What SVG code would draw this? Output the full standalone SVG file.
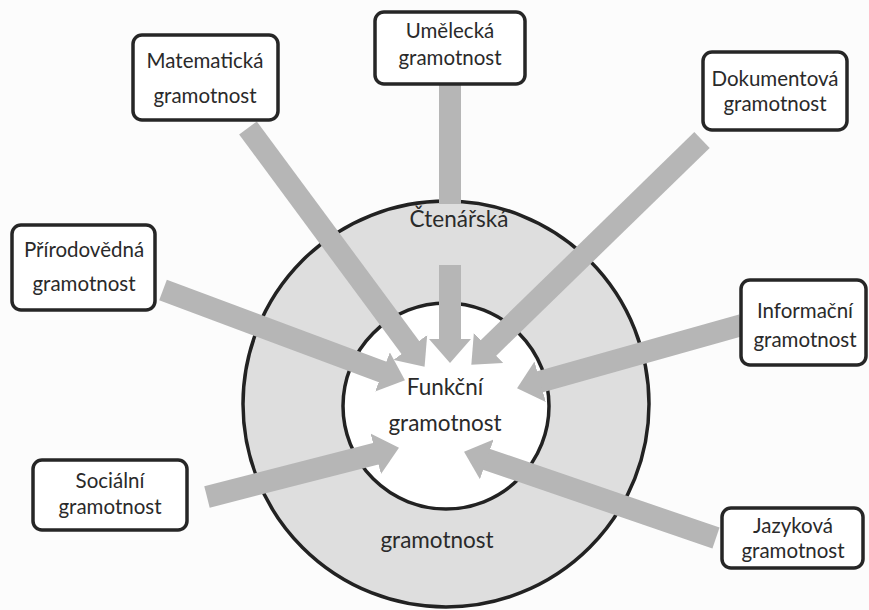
<svg xmlns="http://www.w3.org/2000/svg" width="869" height="610" viewBox="0 0 869 610">
<defs>
<style>
.box{fill:#fff;stroke:#262626;stroke-width:3.5}
.t{font-family:Lato,"Noto Sans","Liberation Sans",sans-serif;font-size:20.5px;fill:#2a2a2a;text-anchor:middle}
.c{font-size:22.5px}
.arr{stroke:#b6b6b6;stroke-width:22;fill:none;marker-end:url(#head)}
.ring{stroke:#222;stroke-width:3.5}
</style>
<marker id="head" markerUnits="userSpaceOnUse" viewBox="0 0 24 42" refX="1" refY="21" markerWidth="24" markerHeight="42" orient="auto">
<path d="M0,0 L24,21 L0,42 Z" fill="#b6b6b6"/>
</marker>
</defs>
<rect width="869" height="610" fill="#fcfcfc"/>
<g id="rings">
<circle class="ring" cx="446" cy="404" r="203" fill="#dedede"/>
<circle class="ring" cx="446" cy="406" r="103" fill="#ffffff"/>
</g>
<g id="connectors">
<line class="arr" x1="248" y1="128" x2="410.9" y2="348.3"/>
<rect x="439" y="84" width="22" height="120" fill="#b6b6b6"/>
<line class="arr" x1="450" y1="265" x2="450" y2="340"/>
<line class="arr" x1="702" y1="140" x2="487.8" y2="348.6"/>
<line class="arr" x1="163" y1="290" x2="383.4" y2="372.3"/>
<line class="arr" x1="742" y1="325" x2="539.2" y2="382"/>
<line class="arr" x1="207" y1="497" x2="376.7" y2="453.5"/>
<line class="arr" x1="716" y1="538" x2="485.8" y2="459.1"/>
</g>
<g id="center-labels">
<text class="t c" x="459" y="227">Čtenářská</text>
<text class="t c" x="445" y="395">Funkční</text>
<text class="t c" x="445" y="431">gramotnost</text>
<text class="t c" x="437" y="548">gramotnost</text>
</g>
<g id="matematicka">
<rect class="box" x="133" y="35" width="145" height="85" rx="9"/>
<text class="t" x="205" y="68">Matematická</text>
<text class="t" x="205" y="103">gramotnost</text>
</g>
<g id="umelecka">
<rect class="box" x="375" y="12" width="150" height="72" rx="9"/>
<text class="t" x="450" y="38">Umělecká</text>
<text class="t" x="450" y="65">gramotnost</text>
</g>
<g id="dokumentova">
<rect class="box" x="703" y="52" width="144" height="78" rx="9"/>
<text class="t" x="775" y="86">Dokumentová</text>
<text class="t" x="775" y="111">gramotnost</text>
</g>
<g id="prirodovedna">
<rect class="box" x="12" y="225" width="143" height="85" rx="9"/>
<text class="t" x="84" y="257">Přírodovědná</text>
<text class="t" x="84" y="291">gramotnost</text>
</g>
<g id="informacni">
<rect class="box" x="741" y="280" width="125" height="85" rx="9"/>
<text class="t" x="805" y="318">Informační</text>
<text class="t" x="805" y="347">gramotnost</text>
</g>
<g id="socialni">
<rect class="box" x="33" y="460" width="154" height="70" rx="9"/>
<text class="t" x="110" y="488">Sociální</text>
<text class="t" x="110" y="514">gramotnost</text>
</g>
<g id="jazykova">
<rect class="box" x="722" y="508" width="141" height="60" rx="9"/>
<text class="t" x="793" y="533">Jazyková</text>
<text class="t" x="793" y="558">gramotnost</text>
</g>
</svg>
